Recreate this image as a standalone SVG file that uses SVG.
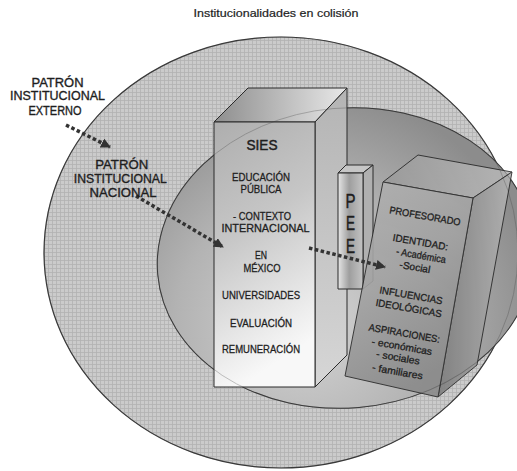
<svg xmlns="http://www.w3.org/2000/svg" width="517" height="471" viewBox="0 0 517 471">
<style>
text{font-family:"Liberation Sans",Arial,sans-serif;fill:#1e1e1e;stroke:#1e1e1e;stroke-width:0.3;text-anchor:middle}
.edge{stroke:#2b2b2b;stroke-width:1;stroke-linejoin:round}
.sies{font-size:11.5px}
.prof{font-size:10px}
.pee{font-size:20px;stroke-width:0.5}
.lbl{font-size:12.5px;stroke-width:0.35}
.dot{fill:none;stroke:#333;stroke-width:3.5;stroke-dasharray:3.5 2.5}
</style>
<defs>
<pattern id="tex" width="4" height="4" patternUnits="userSpaceOnUse">
<rect width="4" height="4" fill="#cbcbcb"/>
<path d="M0 0.5H4M0.5 0V4" stroke="#b2b2b2" stroke-width="0.8"/>
</pattern>
<radialGradient id="inner" gradientUnits="userSpaceOnUse" cx="300" cy="320" r="235">
<stop offset="0" stop-color="#d4d4d4"/>
<stop offset="0.55" stop-color="#b3b3b3"/>
<stop offset="1" stop-color="#8c8c8c"/>
</radialGradient>
<linearGradient id="siesTop" x1="0" y1="0" x2="1" y2="0">
<stop offset="0" stop-color="#8e8e8e"/>
<stop offset="1" stop-color="#e8e8e8"/>
</linearGradient>
<linearGradient id="siesFront" x1="0" y1="0" x2="0.25" y2="1">
<stop offset="0" stop-color="#aeaeae"/>
<stop offset="0.45" stop-color="#c6c6c6"/>
<stop offset="1" stop-color="#f8f8f8"/>
</linearGradient>
<linearGradient id="siesRight" x1="0" y1="0" x2="0" y2="1">
<stop offset="0" stop-color="#b4b4b4"/>
<stop offset="1" stop-color="#d6d6d6"/>
</linearGradient>
<linearGradient id="peeFront" x1="0" y1="0" x2="1" y2="0">
<stop offset="0" stop-color="#e6e6e6"/>
<stop offset="0.45" stop-color="#9e9e9e"/>
<stop offset="1" stop-color="#c4c4c4"/>
</linearGradient>
<linearGradient id="profFront" x1="0" y1="0" x2="0.4" y2="1">
<stop offset="0" stop-color="#b2b2b2"/>
<stop offset="0.5" stop-color="#a2a2a2"/>
<stop offset="1" stop-color="#8a8a8a"/>
</linearGradient>
<linearGradient id="profRight" x1="0" y1="0" x2="1" y2="0">
<stop offset="0" stop-color="#7c7c7c"/>
<stop offset="1" stop-color="#b4b4b4"/>
</linearGradient>
<linearGradient id="profTop" x1="0" y1="0" x2="1" y2="0">
<stop offset="0" stop-color="#9a9a9a"/>
<stop offset="1" stop-color="#b8b8b8"/>
</linearGradient>
<marker id="ah" viewBox="0 0 10 10" refX="9" refY="5" markerWidth="10" markerHeight="10" markerUnits="userSpaceOnUse" orient="auto">
<path d="M0,0 L10,5 L0,10 z" fill="#333"/>
</marker>
</defs>

<rect width="517" height="471" fill="#fff"/>
<text x="276" y="17.3" style="font-size:11px;stroke-width:0.2" textLength="165" lengthAdjust="spacingAndGlyphs">Institucionalidades en colisión</text>

<g id="outer">
<ellipse cx="281" cy="252.5" rx="237" ry="215.5" fill="url(#tex)" stroke="#3a3a3a" stroke-width="1.2"/>
</g>
<g id="inner-ellipse">
<ellipse cx="346" cy="258" rx="189" ry="150" transform="rotate(-5 346 258)" fill="url(#inner)" stroke="#3a3a3a" stroke-width="1"/>
</g>

<g id="sies">
<polygon class="edge" points="214,122 248,88 347,88 315,122" fill="url(#siesTop)"/>
<polygon class="edge" points="315,122 347,88 347,355 315,387" fill="url(#siesRight)"/>
<rect class="edge" x="214" y="122" width="101" height="265" fill="url(#siesFront)"/>
<text x="262" y="150" style="font-size:14px;stroke-width:0.45" textLength="31" lengthAdjust="spacingAndGlyphs">SIES</text>
<text class="sies" x="261" y="180.7" textLength="58" lengthAdjust="spacingAndGlyphs">EDUCACIÓN</text>
<text class="sies" x="261" y="193.3" textLength="41" lengthAdjust="spacingAndGlyphs">PÚBLICA</text>
<text class="sies" x="262" y="220" textLength="58" lengthAdjust="spacingAndGlyphs">- CONTEXTO</text>
<text class="sies" x="265.5" y="232.3" textLength="88" lengthAdjust="spacingAndGlyphs">INTERNACIONAL</text>
<text class="sies" x="261" y="259" textLength="12" lengthAdjust="spacingAndGlyphs">EN</text>
<text class="sies" x="262" y="272.3" textLength="37" lengthAdjust="spacingAndGlyphs">MÉXICO</text>
<text class="sies" x="261" y="299" textLength="78" lengthAdjust="spacingAndGlyphs">UNIVERSIDADES</text>
<text class="sies" x="261" y="326.7" textLength="62" lengthAdjust="spacingAndGlyphs">EVALUACIÓN</text>
<text class="sies" x="261" y="353.3" textLength="78" lengthAdjust="spacingAndGlyphs">REMUNERACIÓN</text>
</g>

<g id="pee">
<polygon class="edge" points="338,173 346,165 373,165 363,173" fill="#c6c6c6"/>
<polygon class="edge" points="363,173 373,165 373,281 363,289" fill="#b0b0b0"/>
<rect class="edge" x="338" y="173" width="25" height="116" fill="url(#peeFront)"/>
<text class="pee" x="350.5" y="207.5" textLength="10" lengthAdjust="spacingAndGlyphs">P</text>
<text class="pee" x="350.5" y="230" textLength="9" lengthAdjust="spacingAndGlyphs">E</text>
<text class="pee" x="350.5" y="252.5" textLength="9" lengthAdjust="spacingAndGlyphs">E</text>
</g>

<g id="profesorado">
<g opacity="0.9">
<polygon class="edge" points="383,182 418,155 512,172 473,198" fill="url(#profTop)"/>
<polygon class="edge" points="473,198 512,172 477,365 438,397" fill="url(#profRight)"/>
<polygon class="edge" points="383,182 473,198 438,397 345,376" fill="url(#profFront)"/>
</g>
<g transform="translate(425,216) rotate(10)">
<text class="prof" x="0" y="3.5" textLength="72" lengthAdjust="spacingAndGlyphs">PROFESORADO</text>
<text class="prof" x="0" y="30" textLength="56" lengthAdjust="spacingAndGlyphs">IDENTIDAD:</text>
<text class="prof" x="3" y="43" textLength="50" lengthAdjust="spacingAndGlyphs">- Académica</text>
<text class="prof" x="-1" y="55.5" textLength="31" lengthAdjust="spacingAndGlyphs">-Social</text>
<text class="prof" x="0" y="84" textLength="64" lengthAdjust="spacingAndGlyphs">INFLUENCIAS</text>
<text class="prof" x="0" y="97" textLength="67" lengthAdjust="spacingAndGlyphs">IDEOLÓGICAS</text>
<text class="prof" x="0" y="122.5" textLength="72" lengthAdjust="spacingAndGlyphs">ASPIRACIONES:</text>
<text class="prof" x="0" y="136" textLength="61" lengthAdjust="spacingAndGlyphs">- económicas</text>
<text class="prof" x="-2" y="147.5" textLength="44" lengthAdjust="spacingAndGlyphs">- sociales</text>
<text class="prof" x="0" y="161.5" textLength="51" lengthAdjust="spacingAndGlyphs">- familiares</text>
</g>
</g>

<g id="see-through" fill="none" stroke="#3a3a3a" stroke-width="0.8" opacity="0.35">
<ellipse cx="346" cy="258" rx="189" ry="150" transform="rotate(-5 346 258)"/>
<ellipse cx="281" cy="252.5" rx="237" ry="215.5"/>
</g>

<g id="connectors">
<path class="dot" d="M66,125 L110,147" marker-end="url(#ah)"/>
<path class="dot" d="M136,196 L223,247" marker-end="url(#ah)"/>
<path class="dot" d="M309,248 L385,267" marker-end="url(#ah)"/>
</g>

<g id="externo">
<text class="lbl" x="57.5" y="86.7" textLength="52" lengthAdjust="spacingAndGlyphs">PATRÓN</text>
<text class="lbl" x="57.5" y="100" textLength="95" lengthAdjust="spacingAndGlyphs">INSTITUCIONAL</text>
<text class="lbl" x="55" y="115" textLength="53" lengthAdjust="spacingAndGlyphs">EXTERNO</text>
</g>
<g id="nacional">
<text class="lbl" x="121.7" y="169.3" textLength="53" lengthAdjust="spacingAndGlyphs">PATRÓN</text>
<text class="lbl" x="120.3" y="183.3" textLength="93" lengthAdjust="spacingAndGlyphs">INSTITUCIONAL</text>
<text class="lbl" x="123" y="197.3" textLength="67" lengthAdjust="spacingAndGlyphs">NACIONAL</text>
</g>
</svg>
